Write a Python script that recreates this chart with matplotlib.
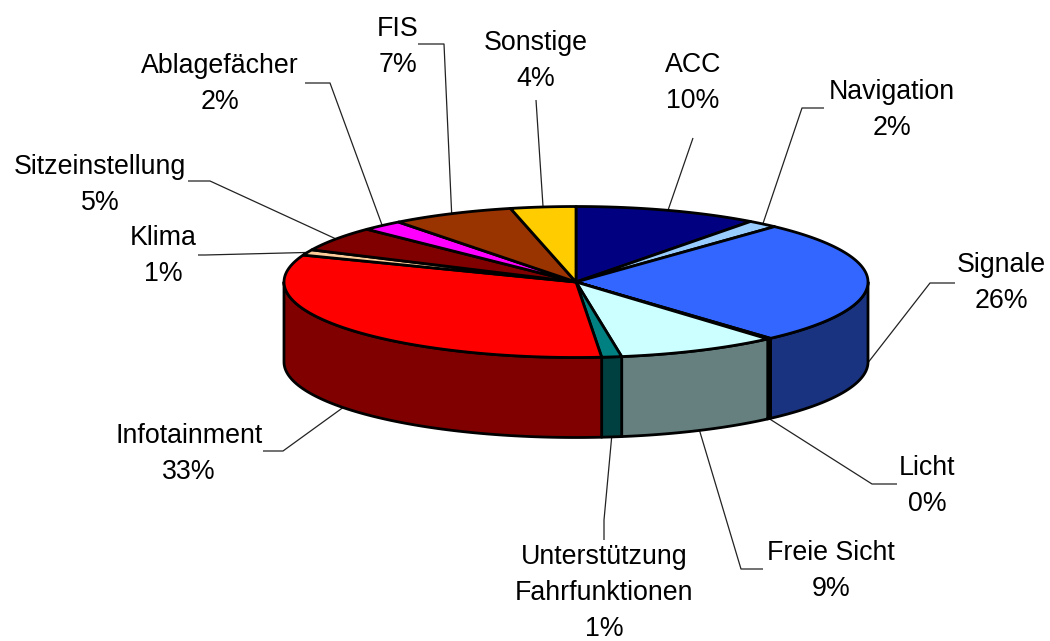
import matplotlib
matplotlib.use("Agg")
import matplotlib.pyplot as plt
import numpy as np

plt.rcParams["font.family"] = ["Liberation Sans", "DejaVu Sans"]

# share of each slice, clockwise from 12 o'clock
names = ["ACC", "Navigation", "Signale", "Licht", "Freie Sicht",
         "Unterstützung\nFahrfunktionen", "Infotainment", "Klima",
         "Sitzeinstellung", "Ablagefächer", "FIS", "Sonstige"]
values = [10.2, 1.7, 26.5, 0.2, 8.9, 1.1, 32.2, 1.2, 5.3, 2.3, 6.8, 3.6]
shown = ["10%", "2%", "26%", "0%", "9%", "1%", "33%", "1%", "5%", "2%", "7%", "4%"]

top_colors = ["#000080", "#99CCFF", "#3366FF", "#000080", "#CCFFFF", "#008080",
              "#FF0000", "#FFCC99", "#800000", "#FF00FF", "#993300", "#FFCC00"]
side_colors = ["#000040", "#4D6680", "#1A3380", "#000040", "#668080", "#004040",
               "#800000", "#806650", "#400000", "#800080", "#4D1A00", "#806600"]

# label centre and leader elbow(s), in pixels
label_xy = [(693, 83), (892, 110), (1001, 283), (927, 486), (831, 571), (604, 593),
            (189, 454), (163, 256), (100, 185), (220, 84), (398, 47), (536, 61)]
elbows = [[(693, 138)], [(802, 108), (824, 108)], [(930, 283), (955, 283)],
          [(872, 484), (897, 484)], [(741, 569), (763, 569)], [(604, 520), (604, 540)],
          [(283, 451), (263, 451)], [(205, 255), (198, 255)], [(210, 181), (188, 181)],
          [(330, 83), (305, 83)], [(444, 44), (418, 44)], [(536, 100)]]

cx, cy, rx, ry, depth = 576, 282, 292, 75.5, 80


def rim(t):
    t = np.radians(t)
    return cx + rx * np.sin(t), cy - ry * np.cos(t)


fig = plt.figure(figsize=(10.5, 6.41), dpi=100)
ax = fig.add_axes([0, 0, 1, 1])
ax.set_xlim(0, 1050)
ax.set_ylim(641, 0)
ax.axis("off")

edges = np.cumsum([0] + values) / sum(values) * 360

# leaders first, the pie sits on top of them
for i, pts in enumerate(elbows):
    mid = (edges[i] + edges[i + 1]) / 2
    x0, y0 = rim(mid)
    if 90 <= mid <= 270:
        y0 += depth
    xs = [x0] + [p[0] for p in pts]
    ys = [y0] + [p[1] for p in pts]
    ax.plot(xs, ys, color="#222222", lw=0.9, zorder=1, solid_capstyle="butt")

# outer wall, only the front half of the ellipse shows
for i in range(len(values)):
    a, b = max(edges[i], 90), min(edges[i + 1], 270)
    if b <= a:
        continue
    t = np.linspace(a, b, 80)
    x, y = rim(t)
    ax.fill(np.r_[x, x[::-1]], np.r_[y, y[::-1] + depth], facecolor=side_colors[i],
            edgecolor="black", lw=2.0, joinstyle="round", zorder=2)

# top face
for i in range(len(values)):
    t = np.linspace(edges[i], edges[i + 1], 80)
    x, y = rim(t)
    ax.fill(np.r_[cx, x], np.r_[cy, y], facecolor=top_colors[i],
            edgecolor="black", lw=2.0, joinstyle="round", zorder=3)

for name, pct, (x, y) in zip(names, shown, label_xy):
    ax.text(x, y, name + "\n" + pct, ha="center", va="center", fontsize=19.3,
            linespacing=1.5, color="black", zorder=4)

fig.savefig("out.png", dpi=100, facecolor="white")
